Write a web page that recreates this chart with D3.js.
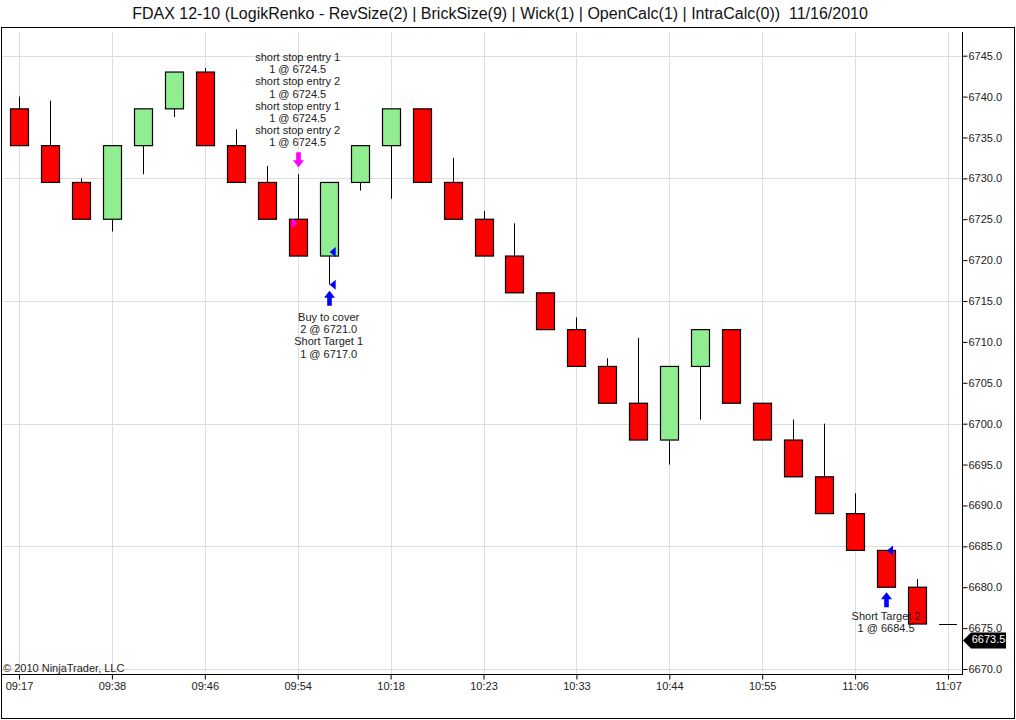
<!DOCTYPE html>
<html>
<head>
<meta charset="utf-8">
<script src="https://cdn.jsdelivr.net/npm/d3@7"></script>
<style>
  body { margin: 0; background: #fff; }
  text { font-family: "Liberation Sans", Arial, sans-serif; }
</style>
</head>
<body>
<svg id="chart" width="1016" height="720"></svg>
<script>
// dados dos tijolos renko (abertura, fechamento, máxima, mínima)
var opens  = [6738.5, 6734, 6729.5, 6725, 6734, 6738.5, 6743, 6734, 6729.5, 6725, 6720.5, 6729.5, 6734, 6738.5, 6729.5, 6725,
              6720.5, 6716, 6711.5, 6707, 6702.5, 6698, 6707, 6711.5, 6702.5, 6698, 6693.5, 6689, 6684.5, 6680, 6675.5];
var closes = [6734, 6729.5, 6725, 6734, 6738.5, 6743, 6734, 6729.5, 6725, 6720.5, 6729.5, 6734, 6738.5, 6729.5, 6725, 6720.5,
              6716, 6711.5, 6707, 6702.5, 6698, 6707, 6711.5, 6702.5, 6698, 6693.5, 6689, 6684.5, 6680, 6675.5, 6675.5];
var highs  = [6740, 6739.5, 6730, 6734, 6738.5, 6743, 6743.5, 6736, 6731.5, 6730.5, 6729.5, 6734, 6738.5, 6738.5, 6732.5, 6726,
              6724.5, 6716, 6713, 6708, 6710.5, 6707, 6711.5, 6711.5, 6702.5, 6700.5, 6700, 6691.5, 6684.5, 6681, 6675.5];
var lows   = [6734, 6729.5, 6725, 6723.5, 6730.5, 6737.5, 6734, 6729.5, 6725, 6720.5, 6717, 6728.5, 6727.5, 6729.5, 6725, 6720.5,
              6716, 6711.5, 6707, 6702.5, 6698, 6695, 6700.5, 6702.5, 6698, 6693.5, 6689, 6684.5, 6680, 6675.5, 6675.5];

// rótulos do eixo de tempo (um a cada 3 barras)
var timeBars   = [0, 3, 6, 9, 12, 15, 18, 21, 24, 27, 30];
var timeLabels = ["09:17", "09:38", "09:46", "09:54", "10:18", "10:23", "10:33", "10:44", "10:55", "11:06", "11:07"];

// execuções (barra, preço)
var entryBars   = [9];
var entryPrices = [6724.5];
var exitBars    = [10, 10, 28];
var exitPrices  = [6721, 6717, 6684.5];

// textos das ordens
var entryText = ["short stop entry 1", "1 @ 6724.5", "short stop entry 2", "1 @ 6724.5",
                 "short stop entry 1", "1 @ 6724.5", "short stop entry 2", "1 @ 6724.5"];
var exitText1 = ["Buy to cover", "2 @ 6721.0", "Short Target 1", "1 @ 6717.0"];
var exitText2 = ["Short Target 2", "1 @ 6684.5"];

var lastPrice = 6673.5;
var title = "FDAX 12-10 (LogikRenko - RevSize(2) | BrickSize(9) | Wick(1) | OpenCalc(1) | IntraCalc(0))  11/16/2010";

var svg = d3.select("#chart");

var x = d3.scaleLinear().domain([0, 30]).range([19, 948]);
var y = d3.scaleLinear().domain([6670, 6745]).range([669, 55.7]);
var bw = 18;

// moldura
svg.append("rect")
  .attr("x", 1.5).attr("y", 27.5).attr("width", 1013).attr("height", 691)
  .attr("fill", "none").attr("stroke", "#000");

// título
svg.append("text")
  .attr("x", 500).attr("y", 19)
  .attr("text-anchor", "middle")
  .attr("font-size", 16).attr("fill", "#111")
  .style("white-space", "pre")
  .text(title);

// grade
svg.append("g").selectAll("line")
  .data(d3.range(6670, 6746, 15))
  .enter().append("line")
  .attr("x1", 2).attr("x2", 962)
  .attr("y1", function (d) { return Math.round(y(d)) + 0.5; })
  .attr("y2", function (d) { return Math.round(y(d)) + 0.5; })
  .attr("stroke", "#dedede");

svg.append("g").selectAll("line")
  .data(timeBars)
  .enter().append("line")
  .attr("x1", function (d) { return Math.round(x(d)) + 0.5; })
  .attr("x2", function (d) { return Math.round(x(d)) + 0.5; })
  .attr("y1", 32).attr("y2", 674)
  .attr("stroke", "#dedede");

// eixo de preço à direita
var yAxis = d3.axisRight(y)
  .tickValues(d3.range(6670, 6746, 5))
  .tickFormat(d3.format(".1f"))
  .tickSize(5).tickPadding(1);
var gy = svg.append("g").attr("transform", "translate(962.5,0)").call(yAxis);
gy.select(".domain").remove();
gy.selectAll("text").attr("font-size", 11).attr("font-family", "Liberation Sans, Arial, sans-serif").attr("fill", "#222");

// eixo de tempo
var xAxis = d3.axisBottom(x)
  .tickValues(timeBars)
  .tickFormat(function (d, i) { return timeLabels[i]; })
  .tickSize(5).tickPadding(3);
var gx = svg.append("g").attr("transform", "translate(0,674.5)").call(xAxis);
gx.select(".domain").remove();
gx.selectAll("text").attr("font-size", 11).attr("font-family", "Liberation Sans, Arial, sans-serif").attr("fill", "#222");

svg.append("line").attr("x1", 2).attr("x2", 963).attr("y1", 674.5).attr("y2", 674.5).attr("stroke", "#000");
svg.append("line").attr("x1", 962.5).attr("x2", 962.5).attr("y1", 32).attr("y2", 674.5).attr("stroke", "#000");

// copyright
svg.append("text")
  .attr("x", 3).attr("y", 672)
  .attr("font-size", 11).attr("fill", "#222")
  .text("\u00a9 2010 NinjaTrader, LLC");

var bars = d3.range(opens.length);

// pavios
svg.append("g").selectAll("line")
  .data(bars)
  .enter().append("line")
  .attr("x1", function (i) { return Math.round(x(i)) + 0.5; })
  .attr("x2", function (i) { return Math.round(x(i)) + 0.5; })
  .attr("y1", function (i) { return y(highs[i]); })
  .attr("y2", function (i) { return y(lows[i]); })
  .attr("stroke", "#000");

// corpos
svg.append("g").selectAll("rect")
  .data(bars.filter(function (i) { return opens[i] != closes[i]; }))
  .enter().append("rect")
  .attr("x", function (i) { return Math.round(x(i)) - bw / 2 + 0.5; })
  .attr("y", function (i) { return y(Math.max(opens[i], closes[i])); })
  .attr("width", bw)
  .attr("height", function (i) { return y(Math.min(opens[i], closes[i])) - y(Math.max(opens[i], closes[i])); })
  .attr("fill", function (i) { return closes[i] > opens[i] ? "#90ee90" : "#ff0000"; })
  .attr("stroke", "#000").attr("stroke-width", 1.2);

// barra sem corpo (traço)
svg.append("g").selectAll("line")
  .data(bars.filter(function (i) { return opens[i] == closes[i]; }))
  .enter().append("line")
  .attr("x1", function (i) { return x(i) - bw / 2; })
  .attr("x2", function (i) { return x(i) + bw / 2; })
  .attr("y1", function (i) { return Math.round(y(closes[i])) + 0.5; })
  .attr("y2", function (i) { return Math.round(y(closes[i])) + 0.5; })
  .attr("stroke", "#000");

// triângulos de execução
svg.append("g").selectAll("path")
  .data(entryBars)
  .enter().append("path")
  .attr("d", function (b, i) {
    var cx = x(b), cy = y(entryPrices[i]);
    return "M" + (cx - 6) + "," + (cy - 5) + "L" + cx + "," + cy + "L" + (cx - 6) + "," + (cy + 5) + "Z";
  })
  .attr("fill", "#ff00ff");

svg.append("g").selectAll("path")
  .data(exitBars)
  .enter().append("path")
  .attr("d", function (b, i) {
    var cx = x(b) + 1, cy = y(exitPrices[i]);
    return "M" + (cx + 6) + "," + (cy - 5) + "L" + cx + "," + cy + "L" + (cx + 6) + "," + (cy + 5) + "Z";
  })
  .attr("fill", "#0000ff");

// setas
function arrow(cx, tip, dir, color) {
  // dir = 1 aponta para baixo, -1 para cima
  var h = 15, head = 7, s = 2.3, w = 5.5;
  var base = tip - dir * h, neck = tip - dir * head;
  var pts = [[cx - s, base], [cx + s, base], [cx + s, neck], [cx + w, neck], [cx, tip], [cx - w, neck], [cx - s, neck]];
  svg.append("path")
    .attr("d", "M" + pts.map(function (p) { return p.join(","); }).join("L") + "Z")
    .attr("fill", color);
}
arrow(Math.round(x(9)) + 0.5, y(highs[9]) - 7, 1, "#ff00ff");
arrow(Math.round(x(10)) + 0.5, y(lows[10]) + 6, -1, "#0000ff");
arrow(Math.round(x(28)) + 0.5, y(lows[28]) + 5, -1, "#0000ff");

// textos das ordens
function label(lines, cx, firstY) {
  svg.append("g").selectAll("text")
    .data(lines)
    .enter().append("text")
    .attr("x", cx)
    .attr("y", function (d, i) { return firstY + i * 12.2; })
    .attr("text-anchor", "middle")
    .attr("dominant-baseline", "middle")
    .attr("font-size", 11).attr("fill", "#222")
    .text(function (d) { return d; });
}
label(entryText, x(9), 58);
label(exitText1, x(10), 318);
label(exitText2, x(28), 617);

// etiqueta do último preço
var ly = y(lastPrice);
svg.append("path")
  .attr("d", "M963," + ly + "L971," + (ly - 8) + "L1006," + (ly - 8) + "L1006," + (ly + 8) + "L971," + (ly + 8) + "Z")
  .attr("fill", "#000");
svg.append("text")
  .attr("x", 988.5).attr("y", ly)
  .attr("text-anchor", "middle")
  .attr("dominant-baseline", "middle")
  .attr("font-size", 11).attr("fill", "#fff")
  .text(d3.format(".1f")(lastPrice));
</script>
</body>
</html>
